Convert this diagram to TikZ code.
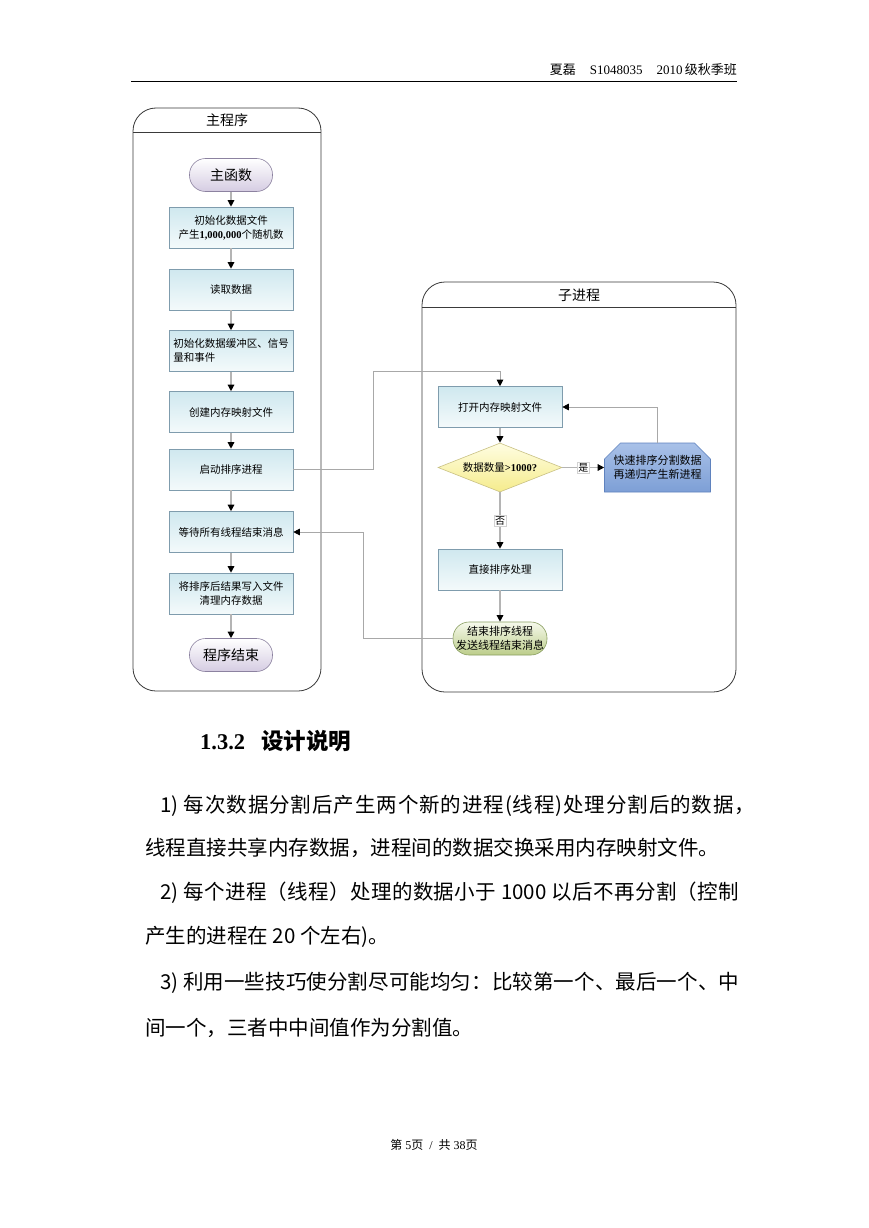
\documentclass[tikz,border=0pt]{standalone}
\usepackage{fontspec}
\setmainfont{Liberation Serif}
\newfontfamily\cjk{Noto Sans CJK SC}
\usetikzlibrary{arrows.meta,shapes.geometric,shapes.misc}
\makeatletter
\newcommand\spreadline[2]{\makebox[#1][s]{\@tempswafalse\@tfor\sp@c:=#2\do{\if@tempswa\hskip0pt plus 1fil\fi\@tempswatrue\sp@c}}}
\makeatother
\definecolor{boxborder}{HTML}{7F9CAD}
\definecolor{cyantop}{HTML}{CFE8EF}
\definecolor{cyanbot}{HTML}{F4FAFB}
\definecolor{purpborder}{HTML}{8C82A0}
\definecolor{purpbot}{HTML}{D5CCE2}
\definecolor{greenborder}{HTML}{8A9F62}
\definecolor{greentop}{HTML}{F6F9EC}
\definecolor{greenbot}{HTML}{BCCD8A}
\definecolor{yelborder}{HTML}{C9C184}
\definecolor{yeltop}{HTML}{FFFDE2}
\definecolor{yelbot}{HTML}{F5EC8C}
\definecolor{blueborder}{HTML}{5F82BE}
\definecolor{bluetop}{HTML}{A9C1E8}
\definecolor{bluemid}{HTML}{E2EAF7}
\definecolor{bluebot}{HTML}{7D9FD6}
\definecolor{flowgray}{HTML}{B4B4B4}
\definecolor{linkgray}{HTML}{A8A8A8}
\definecolor{laneborder}{HTML}{3A3A3A}
\tikzset{
  lane/.style={draw=laneborder, line width=0.8pt, rounded corners=23pt},
  lanebar/.style={draw=laneborder, line width=0.8pt},
  lanetitle/.style={font=\cjk\fontsize{14}{16}\selectfont, inner sep=0pt},
  proc/.style={draw=boxborder, line width=0.6pt, top color=cyantop, bottom color=cyanbot,
    minimum width=124pt, minimum height=41pt, inner sep=1pt, align=center,
    font=\cjk\fontsize{10.5}{14}\selectfont},
  term/.style={draw=purpborder, line width=0.6pt, top color=white, bottom color=purpbot,
    rectangle, rounded corners=16pt, minimum width=83pt, minimum height=33pt, inner sep=0pt,
    font=\cjk\fontsize{14}{16}\selectfont},
  endbox/.style={draw=greenborder, line width=0.6pt, top color=greentop, bottom color=greenbot,
    rectangle, rounded corners=16pt, minimum width=94pt, minimum height=33pt, inner sep=0pt,
    align=center, font=\cjk\fontsize{11}{14}\selectfont},
  decision/.style={draw=yelborder, line width=0.6pt, top color=yeltop, bottom color=yelbot,
    diamond, aspect=2.5, inner sep=0pt, minimum width=124pt, minimum height=49pt,
    font=\cjk\fontsize{10.5}{13}\selectfont},
  qsbox/.style={draw=blueborder, line width=0.6pt, top color=bluetop, middle color=bluemid, bottom color=bluebot,
    chamfered rectangle, chamfered rectangle corners={north west,north east},
    chamfered rectangle xsep=8pt, chamfered rectangle ysep=8pt,
    minimum width=99pt, minimum height=49pt, inner sep=1pt, align=left,
    font=\cjk\fontsize{11}{14}\selectfont},
  flow/.style={draw=flowgray, line width=1.3pt, -{Triangle[length=6.5pt,width=6.5pt,color=black]}},
  link/.style={draw=linkgray, line width=0.8pt, -{Triangle[length=6.5pt,width=6.5pt,color=black]}},
  lbl/.style={fill=white, draw=gray!35, line width=0.4pt, inner sep=1pt, font=\cjk\fontsize{10}{12}\selectfont},
  body/.style={anchor=west, inner sep=0pt, font=\cjk\fontsize{20.5}{24}\selectfont},
}
\begin{document}
\begin{tikzpicture}[x=1pt,y=-1pt]
\fill[white] (0,0) rectangle (869,1228);
\useasboundingbox (0,0) rectangle (869,1228);

% header
\node[anchor=base east, inner sep=0pt, font=\fontsize{13}{15}\selectfont] (hdr) at (737,75)
  {{\cjk 夏磊}\hspace{14pt}S1048035\hspace{14pt}2010\,{\cjk 级秋季班}};
\draw[line width=0.8pt] (131,81) -- (737,81);

% lanes
\draw[lane] (133,108) rectangle (321,691);
\draw[lanebar] (133,132) -- (321,132);
\node[lanetitle] (t1) at (227,120) {主程序};

\draw[lane] (422,282) rectangle (736,692);
\draw[lanebar] (422,307) -- (736,307);
\node[lanetitle] (t2) at (579,295) {子进程};

% main program nodes
\node[term] (m0) at (231,175) {主函数};
\node[proc] (m1) at (231,227.5) {初始化数据文件\\产生{\rmfamily\bfseries 1,000,000}个随机数};
\node[proc] (m2) at (231,289.5) {读取数据};
\node[proc, align=left] (m3) at (231,351) {初始化数据缓冲区、信号\\量和事件};
\node[proc] (m4) at (231,412) {创建内存映射文件};
\node[proc] (m5) at (231,469.5) {启动排序进程};
\node[proc] (m6) at (231,532) {等待所有线程结束消息};
\node[proc] (m7) at (231,593.5) {将排序后结果写入文件\\清理内存数据};
\node[term] (m8) at (231,655) {程序结束};

\draw[flow] (m0) -- (m1);
\draw[flow] (m1) -- (m2);
\draw[flow] (m2) -- (m3);
\draw[flow] (m3) -- (m4);
\draw[flow] (m4) -- (m5);
\draw[flow] (m5) -- (m6);
\draw[flow] (m6) -- (m7);
\draw[flow] (m7) -- (m8);

% sub process nodes
\node[proc] (s1) at (500,407) {打开内存映射文件};
\node[decision] (s2) at (500,467.5) {数据数量{\rmfamily\bfseries >1000?}};
\node[qsbox] (s3) at (657.5,467.5) {快速排序分割数据\\再递归产生新进程};
\node[proc] (s4) at (500,569.5) {直接排序处理};
\node[endbox] (s5) at (500,638.5) {结束排序线程\\发送线程结束消息};

\draw[flow] (s1) -- (s2);
\draw[flow] (s2.east) -- node[lbl] (yes) {是} (s3.west);
\draw[flow] (s2.south) -- node[lbl] (no) {否} (s4.north);
\draw[flow] (s4) -- (s5);
\draw[link] (s3.north) |- (s1.east);

\coordinate (k1) at (373,371);
\coordinate (k2) at (363,532);
\draw[link] (m5.east) -| (k1) -| (s1.north);
\draw[link] (s5.west) -| (k2) -- (m6.east);

% section text
\node[anchor=west, inner sep=0pt, font=\fontsize{22.5}{26}\selectfont\bfseries] (h) at (200,741)
  {1.3.2\hspace{16pt}{\cjk\bfseries 设计说明}};
\node[body] (p1) at (160,806) {\spreadline{595pt}{{1)\ }每次数据分割后产生两个新的进程{(}线程{)}处理分割后的数据，}};
\node[body] (p2) at (145,848) {线程直接共享内存数据，进程间的数据交换采用内存映射文件。};
\node[body] (p3) at (160,893) {\spreadline{579pt}{{2)\ }每个进程（线程）处理的数据小于{\ 1000\ }以后不再分割（控制}};
\node[body] (p4) at (145,937) {产生的进程在 20 个左右)。};
\node[body] (p5) at (160,983) {\spreadline{579pt}{{3)\ }利用一些技巧使分割尽可能均匀：比较第一个、最后一个、中}};
\node[body] (p6) at (145,1028) {间一个，三者中中间值作为分割值。};

\node[inner sep=0pt, font=\fontsize{12}{14}\selectfont] (ft) at (434,1145)
  {{\cjk 第} 5{\cjk 页}\hspace{6pt}/\hspace{6pt}{\cjk 共} 38{\cjk 页}};
\end{tikzpicture}
\end{document}
